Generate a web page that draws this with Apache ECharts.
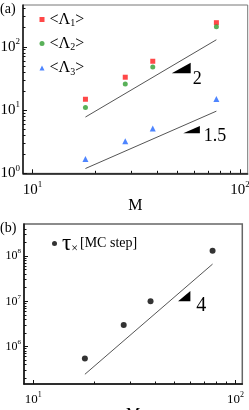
<!DOCTYPE html>
<html><head><meta charset="utf-8">
<script src="https://cdn.jsdelivr.net/npm/echarts@6/dist/echarts.min.js"></script>
<style>html,body{margin:0;padding:0;background:#fff}#c{width:249px;height:410px}</style>
</head><body><div id="c"></div>
<script>
// ---- data ----
const M = [18, 28, 38, 77];
const lambda1 = [14.8, 33, 59, 240];
const lambda2 = [11, 25.7, 48, 207];
const lambda3 = [1.68, 3.2, 5.1, 14.9];
const tau = [5.5e5, 3.0e6, 1.0e7, 1.31e8];
const fitM = [18, 77];
const fitA1 = [7.75, 129];
const fitA2 = [1.19, 9.6];
const fitB = [2.46e5, 6.65e7];
// slope triangles: [xLeft, yBottom, xRight, yTop]
const triA = [[46.9, 38, 57.9, 55.9], [53.3, 4.28, 64.1, 5.59]];
const triB = [[52, 1.0e7, 59.8, 1.69e7]];
const triLabelsA = ['2', '1.5'];
const triLabelsB = ['4'];
const xMajor = [10, 100];
const xMinor = [20, 30, 40, 50, 60, 70, 80, 90];
const yMajorA = [1, 10, 100];
const yMinorA = [2, 3, 4, 5, 6, 7, 8, 9, 20, 30, 40, 50, 60, 70, 80, 90, 200, 300, 400];
const yMajorB = [1e6, 1e7, 1e8];
const yMinorB = [2e5, 3e5, 4e5, 5e5, 6e5, 7e5, 8e5, 9e5, 2e6, 3e6, 4e6, 5e6, 6e6, 7e6, 8e6, 9e6, 2e7, 3e7, 4e7, 5e7, 6e7, 7e7, 8e7, 9e7, 2e8, 3e8, 4e8];
const legendNames = ['L1', 'L2', 'L3'];
const legendSubs = ['1', '2', '3'];
const tauName = 'tau';

// ---- styles ----
const SERIF = 'Liberation Serif';
const xRangeA = [9, 109], yRangeA = [1, 457];
const xRangeB = [9, 108], yRangeB = [1.5e5, 5.1e8];

function supFmt(v) {
  const e = Math.round(Math.log10(v));
  return '{b|10}{s|' + e + '}';
}
function supRich(fs) {
  return { b: { fontFamily: SERIF, fontSize: fs, color: '#000', lineHeight: fs + 4 },
           s: { fontFamily: SERIF, fontSize: Math.round(fs * 0.62), color: '#000', verticalAlign: 'top', lineHeight: fs * 0.62 } };
}
function majorAxis(kind, grid, range, custom, fs, extra) {
  const ax = Object.assign({
    type: 'log', logBase: 10, gridIndex: grid, min: range[0], max: range[1],
    axisLine: { show: true, onZero: false, lineStyle: { color: '#111', width: 1.5 } },
    axisTick: { show: true, inside: true, length: 4, customValues: custom, lineStyle: { color: '#111', width: 1 } },
    axisLabel: { show: true, customValues: custom, formatter: supFmt, rich: supRich(fs), margin: kind === 'x' ? 7 : 3 },
    splitLine: { show: false }, minorTick: { show: false }, minorSplitLine: { show: false }
  }, extra || {});
  return ax;
}
function minorAxis(grid, range, custom, pos) {
  return {
    type: 'log', logBase: 10, gridIndex: grid, min: range[0], max: range[1], position: pos,
    axisLine: { show: false },
    axisTick: { show: true, inside: true, length: 2.5, customValues: custom, lineStyle: { color: '#111', width: 1 } },
    axisLabel: { show: false }, splitLine: { show: false }
  };
}
function triRender(labels, offs, fs) {
  return function (params, api) {
    const p0 = api.coord([api.value(0), api.value(1)]);
    const p1 = api.coord([api.value(2), api.value(3)]);
    const o = offs[params.dataIndex];
    return { type: 'group', children: [
      { type: 'polygon', shape: { points: [p0, [p1[0], p0[1]], p1] }, style: { fill: '#000' } },
      { type: 'text', x: p1[0] + o[0], y: p0[1] + o[1],
        style: { text: labels[params.dataIndex], fontFamily: SERIF, fontSize: fs, fill: '#000', verticalAlign: 'middle', align: 'left' } }
    ] };
  };
}

const legendText = { fontFamily: SERIF, fontSize: 16, color: '#000', lineHeight: 18,
  rich: { a: { fontFamily: SERIF, fontSize: 16, color: '#000', lineHeight: 18 },
          s: { fontFamily: SERIF, fontSize: 10, color: '#000', verticalAlign: 'bottom', lineHeight: 9 } } };

function legendA(i, top, icon) {
  return { show: true, orient: 'vertical', left: 39.5, top: top, itemWidth: 5, itemHeight: 5, padding: 0,
    data: [{ name: legendNames[i], icon: icon }], selectedMode: false,
    formatter: () => '{a|<Λ}{s|' + legendSubs[i] + '}{a|>}', textStyle: legendText };
}

const option = {
  animation: false,
  backgroundColor: '#fff',
  grid: [
    { left: 23, top: 5, right: 1.3, bottom: 236.7, show: true, borderColor: '#777', borderWidth: 1, outerBoundsMode: 'none', containLabel: false },
    { left: 24, top: 224, right: 6.7, bottom: 26, show: true, borderColor: '#666', borderWidth: 1.5, outerBoundsMode: 'none', containLabel: false }
  ],
  xAxis: [
    majorAxis('x', 0, xRangeA, xMajor, 15, { position: 'bottom', name: 'M', nameLocation: 'middle', nameGap: 23,
      nameTextStyle: { fontFamily: SERIF, fontSize: 16, color: '#000' } }),
    minorAxis(0, xRangeA, xMinor, 'bottom'),
    majorAxis('x', 1, xRangeB, xMajor, 13, { position: 'bottom', name: 'M', nameLocation: 'middle', nameGap: 20,
      nameTextStyle: { fontFamily: SERIF, fontSize: 16, color: '#000' } }),
    minorAxis(1, xRangeB, xMinor, 'bottom')
  ],
  yAxis: [
    majorAxis('y', 0, yRangeA, yMajorA, 15, { position: 'left' }),
    minorAxis(0, yRangeA, yMinorA, 'left'),
    majorAxis('y', 1, yRangeB, yMajorB, 12, { position: 'left' }),
    minorAxis(1, yRangeB, yMinorB, 'left')
  ],
  legend: [
    legendA(0, 10.5, 'rect'),
    legendA(1, 34.5, 'circle'),
    legendA(2, 59, 'triangle'),
    { show: true, left: 52, top: 232, itemWidth: 5, itemHeight: 5, padding: 0, selectedMode: false,
      data: [{ name: tauName, icon: 'circle' }],
      formatter: () => '{t|τ}{x|×}{m|[MC step]}',
      textStyle: { fontFamily: SERIF, fontSize: 14, color: '#000', lineHeight: 22,
        rich: { t: { fontFamily: SERIF, fontSize: 23, color: '#000', lineHeight: 22 },
                x: { fontFamily: SERIF, fontSize: 12, color: '#000', verticalAlign: 'bottom', lineHeight: 11, padding: [0, 2, 0, 0] },
                m: { fontFamily: SERIF, fontSize: 14, color: '#000', lineHeight: 22 } } } }
  ],
  graphic: [
    { type: 'text', left: 0, top: 2, style: { text: '(a)', fontFamily: SERIF, fontSize: 14, fill: '#000' } },
    { type: 'text', left: 0, top: 221, style: { text: '(b)', fontFamily: SERIF, fontSize: 14, fill: '#000' } }
  ],
  series: [
    { name: legendNames[0], type: 'scatter', xAxisIndex: 0, yAxisIndex: 0, symbol: 'rect', symbolSize: 5,
      itemStyle: { color: '#ff1a1a' }, data: M.map((m, i) => [m, lambda1[i]]) },
    { name: legendNames[1], type: 'scatter', xAxisIndex: 0, yAxisIndex: 0, symbol: 'circle', symbolSize: 5,
      itemStyle: { color: '#2f9e2f' }, data: M.map((m, i) => [m, lambda2[i]]) },
    { name: legendNames[2], type: 'scatter', xAxisIndex: 0, yAxisIndex: 0, symbol: 'triangle', symbolSize: 6,
      itemStyle: { color: '#2266ff' }, data: M.map((m, i) => [m, lambda3[i]]) },
    { type: 'line', xAxisIndex: 0, yAxisIndex: 0, symbol: 'none', lineStyle: { color: '#555', width: 1 },
      data: fitM.map((m, i) => [m, fitA1[i]]) },
    { type: 'line', xAxisIndex: 0, yAxisIndex: 0, symbol: 'none', lineStyle: { color: '#555', width: 1 },
      data: fitM.map((m, i) => [m, fitA2[i]]) },
    { type: 'custom', xAxisIndex: 0, yAxisIndex: 0, renderItem: triRender(triLabelsA, [[2, 6], [4, 3]], 18), data: triA },
    { name: tauName, type: 'scatter', xAxisIndex: 2, yAxisIndex: 2, symbol: 'circle', symbolSize: 6,
      itemStyle: { color: '#000' }, data: M.map((m, i) => [m, tau[i]]) },
    { type: 'line', xAxisIndex: 2, yAxisIndex: 2, symbol: 'none', lineStyle: { color: '#555', width: 1 },
      data: fitM.map((m, i) => [m, fitB[i]]) },
    { type: 'custom', xAxisIndex: 2, yAxisIndex: 2, renderItem: triRender(triLabelsB, [[6, 4]], 20), data: triB }
  ]
};
const chart = echarts.init(document.getElementById('c'), null, { renderer: 'canvas' });
chart.setOption(option);
</script></body></html>
